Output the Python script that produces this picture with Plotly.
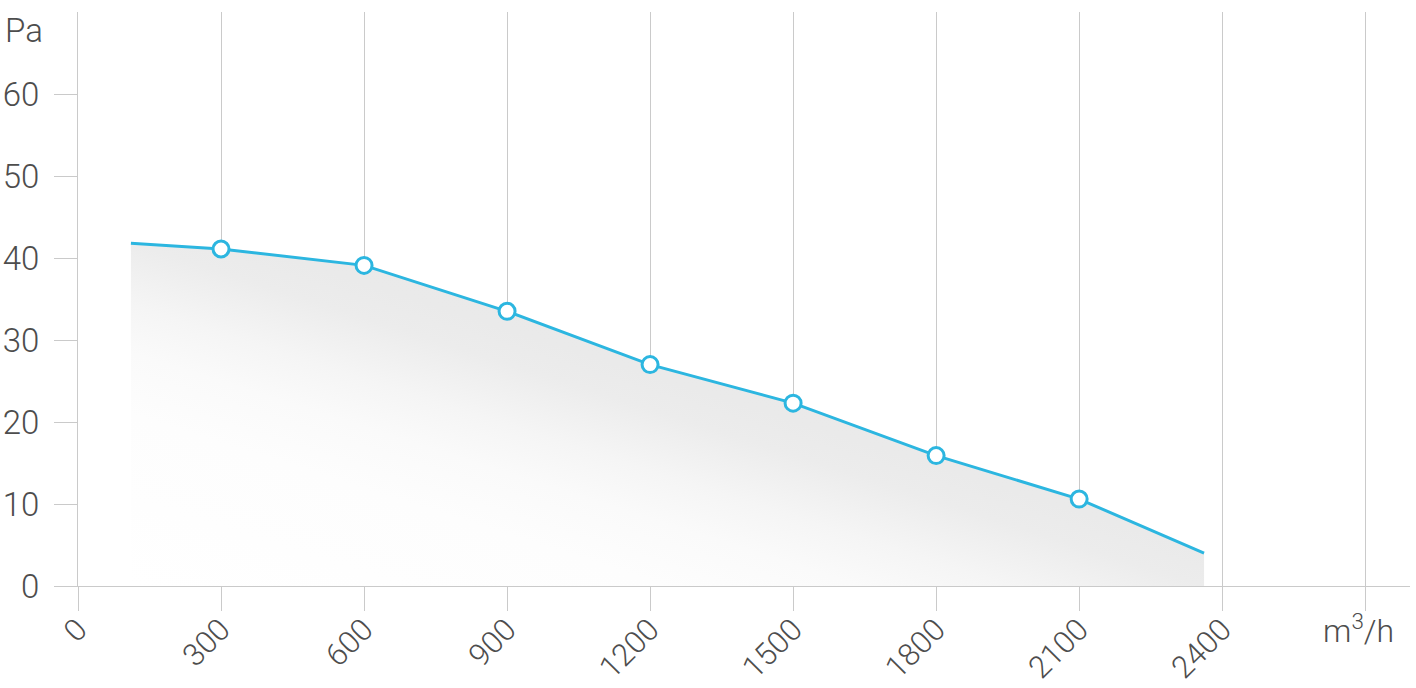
import plotly.graph_objects as go

# ---- data ----
airflow = [111, 300, 600, 900, 1200, 1500, 1800, 2100, 2362]      # m3/h
pressure = [41.8, 41.1, 39.1, 33.5, 27.0, 22.3, 15.9, 10.6, 4.0]  # Pa
marker_flags = [False, True, True, True, True, True, True, True, False]
x_tickvals = [0, 300, 600, 900, 1200, 1500, 1800, 2100, 2400]
x_ticktext = ["0", "300", "600", "900", "1200", "1500", "1800", "2100", "2400"]
x_extra_grid = [2700]
y_tickvals = [0, 10, 20, 30, 40, 50, 60]

LINE = "#2cb6e0"
GRID = "#cacaca"
TXT = "#4d4d4d"
FONT = "Roboto Light, Roboto"
FS = 33

fig = go.Figure()

# filled area under the curve
fig.add_trace(go.Scatter(
    x=airflow, y=pressure, mode="lines", fill="tozeroy",
    line=dict(width=0, color="rgba(0,0,0,0)"),
    fillgradient=dict(type="vertical",
                      colorscale=[[0, "#ffffff"], [0.6, "#f7f7f7"], [1, "#ebebeb"]]),
    hoverinfo="skip", showlegend=False,
))

# the curve
fig.add_trace(go.Scatter(
    x=airflow, y=pressure, mode="lines",
    line=dict(color=LINE, width=3),
    showlegend=False,
))

# hollow markers at the measured points
mx = [a for a, f in zip(airflow, marker_flags) if f]
my = [p for p, f in zip(pressure, marker_flags) if f]
fig.add_trace(go.Scatter(
    x=mx, y=my, mode="markers",
    marker=dict(size=16, color="white", line=dict(color=LINE, width=3)),
    showlegend=False,
))

fig.update_layout(
    width=1416, height=688,
    margin=dict(l=78, r=6, t=12, b=102, autoexpand=False),
    paper_bgcolor="white", plot_bgcolor="white",
    font=dict(family=FONT, color=TXT, size=FS, weight=300),
    xaxis=dict(
        range=[0, 2794], tickmode="array", tickvals=x_tickvals, ticktext=x_ticktext,
        tickangle=-45, showgrid=True, gridcolor=GRID, gridwidth=1,
        ticks="outside", ticklen=24, tickcolor=GRID, tickwidth=1,
        showline=True, linecolor=GRID, linewidth=1, zeroline=False,
        automargin=False, ticklabelstandoff=-12,
        tickfont=dict(family=FONT, size=31, color=TXT, weight=300),
        minor=dict(tickmode="array", tickvals=x_extra_grid, showgrid=True,
                   gridcolor=GRID, gridwidth=1, ticks="outside", ticklen=24,
                   tickcolor=GRID, tickwidth=1),
    ),
    yaxis=dict(
        range=[0, 70], tickmode="array", tickvals=y_tickvals,
        showgrid=False, ticks="outside", ticklen=23, tickcolor=GRID, tickwidth=1,
        showline=True, linecolor=GRID, linewidth=1, zeroline=False,
        automargin=False,
        tickfont=dict(family=FONT, size=FS, color=TXT, weight=300),
        ticklabelstandoff=8,
    ),
    annotations=[
        dict(text="Pa", xref="paper", yref="paper", x=-0.056, y=1.005,
             xanchor="left", yanchor="top", showarrow=False,
             font=dict(family=FONT, size=FS, color=TXT, weight=300)),
        dict(text="m<sup>3</sup>/h", xref="x", yref="paper", x=2700, y=-0.035,
             xanchor="center", yanchor="top", showarrow=False, xshift=-7,
             font=dict(family=FONT, size=FS - 1, color=TXT, weight=300)),
    ],
)

post = """
document.documentElement.style.margin = '0';
document.body.style.margin = '0';
document.body.style.overflow = 'hidden';
var gd = document.getElementById('{plot_id}');
function applyGrad(){
  var ns = 'http://www.w3.org/2000/svg';
  var svg = gd.querySelector('svg.main-svg');
  if (!svg) return;
  var defs = svg.querySelector('defs');
  if (!defs) { defs = document.createElementNS(ns, 'defs'); svg.insertBefore(defs, svg.firstChild); }
  if (!svg.querySelector('#areaDiagGrad')) {
    var g = document.createElementNS(ns, 'linearGradient');
    g.setAttribute('id', 'areaDiagGrad');
    g.setAttribute('x1', '1'); g.setAttribute('y1', '0');
    g.setAttribute('x2', '0'); g.setAttribute('y2', '1');
    var stops = [[0, '#e6e6e6'], [0.45, '#eaeaea'], [0.5, '#ececec'], [0.59, '#f5f5f5'],
                 [0.66, '#fafafa'], [0.75, '#fdfdfd'], [1, '#ffffff']];
    stops.forEach(function(s){
      var st = document.createElementNS(ns, 'stop');
      st.setAttribute('offset', s[0]); st.setAttribute('stop-color', s[1]);
      g.appendChild(st);
    });
    defs.appendChild(g);
  }
  var fills = gd.querySelectorAll('.scatterlayer .js-fill');
  fills.forEach(function(p){ p.style.fill = 'url(#areaDiagGrad)'; });
}
applyGrad();
gd.on('plotly_afterplot', applyGrad);
"""

fig.write_html("out.html", post_script=post, config={"displayModeBar": False})
